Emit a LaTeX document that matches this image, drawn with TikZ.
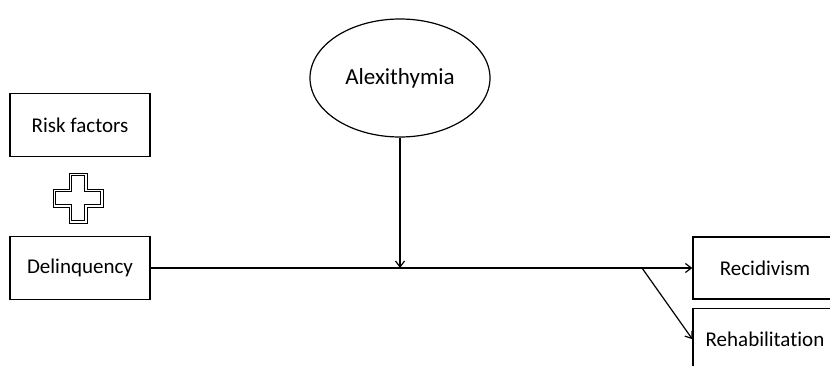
\documentclass[tikz,border=0pt]{standalone}
\usepackage{fontspec}
\setmainfont{Carlito}[Ligatures=NoCommon]
\usetikzlibrary{positioning,shapes.geometric,arrows.meta}
\tikzset{>={Straight Barb[length=6pt,width=9pt]}}

\begin{document}
\begin{tikzpicture}[x=1pt,y=-1pt,
  box/.style={draw, line width=1.2pt, minimum width=140pt, minimum height=63pt,
    inner sep=0pt, font=\fontsize{21}{25}\selectfont},
  wide/.style={box, minimum width=144pt, minimum height=62pt},
  link/.style={->, line width=1.2pt},
  cross/.style={line width=0.9pt, line join=miter}]

  \useasboundingbox (0,0) rectangle (830,366);
  \clip (0,0) rectangle (830,366);

  % Nodes
  \node[box]                          (delinq) at (80,268) {Delinquency};
  \node[box, above=79pt of delinq]    (risk)   {Risk factors};
  \node[ellipse, draw, line width=1.2pt, minimum width=180pt, minimum height=118pt,
    inner sep=0pt, font=\fontsize{23}{27}\selectfont] (alex) at (400,78) {Alexithymia};
  \node[wide]                         (recid)  at (765,268) {Recidivism};
  \node[wide, below=8pt of recid]     (rehab)  {Rehabilitation};

  % Plus sign
  \foreach \a/\b in {9/25, 6.8/22.8}
    \draw[cross, shift={(78,198)}]
      (-\a,-\b) -- (\a,-\b) -- (\a,-\a) -- (\b,-\a) -- (\b,\a) -- (\a,\a) -- (\a,\b)
      -- (-\a,\b) -- (-\a,\a) -- (-\b,\a) -- (-\b,-\a) -- (-\a,-\a) -- cycle;

  % Edges
  \coordinate (join)  at (alex.south |- delinq.east);
  \coordinate (split) at (642,268);
  \draw[link] (delinq.east) -- (recid.west);
  \draw[link] (alex.south) -- (join);
  \draw[link] (split) -- (rehab.west);
\end{tikzpicture}
\end{document}
